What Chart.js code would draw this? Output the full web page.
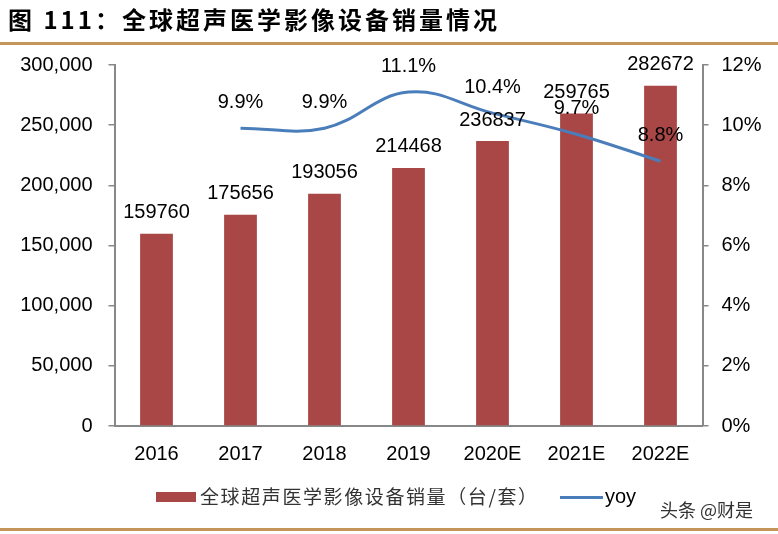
<!DOCTYPE html>
<html>
<head>
<meta charset="utf-8">
<script src="https://cdn.jsdelivr.net/npm/chart.js@4.4.1/dist/chart.umd.min.js"></script>
<style>
  body { margin: 0; background: #fff; }
  #wrap { position: relative; width: 778px; height: 534px; overflow: hidden; }
  #chart { position: absolute; left: 0; top: 0; }
  .abs { position: absolute; white-space: nowrap; }
  #title { left: 8px; top: 5px; font: 700 24px/28px "Noto Sans CJK SC"; letter-spacing: 3px; color: #000; }
  .rule { left: 0; width: 778px; height: 3px; background: #C4965A; }
  #lgText { left: 200px; top: 484px; font: 19px/24px "Noto Sans CJK SC"; color: #333; letter-spacing: 1.6px; }
  #lgYoy { left: 605px; top: 484px; font: 20px/24px "Liberation Sans"; color: #000; }
  #mark { left: 660px; top: 497px; font: 18px/24px "Noto Sans CJK SC"; color: #333; }
</style>
</head>
<body>
<div id="wrap">
  <canvas id="chart" width="778" height="534"></canvas>
  <div id="title" class="abs">图 111：全球超声医学影像设备销量情况</div>
  <div class="abs rule" style="top:42px"></div>
  <div class="abs" style="left:156px;top:492px;width:40px;height:10px;background:#A94646"></div>
  <div id="lgText" class="abs">全球超声医学影像设备销量（台/套）</div>
  <div class="abs" style="left:560px;top:496px;width:43px;height:3px;background:#4A7EBB"></div>
  <div id="lgYoy" class="abs">yoy</div>
  <div id="mark" class="abs">头条 @财是</div>
  <div class="abs rule" style="top:528px"></div>
</div>
<script>
const years = ['2016', '2017', '2018', '2019', '2020E', '2021E', '2022E'];
const sales = [159760, 175656, 193056, 214468, 236837, 259765, 282672];
const yoy = [null, 9.9, 9.9, 11.1, 10.4, 9.7, 8.8];
const salesTicks = [0, 50000, 100000, 150000, 200000, 250000, 300000];
const yoyTicks = [0, 2, 4, 6, 8, 10, 12];

const FONT = { family: 'Liberation Sans', size: 20 };
const AXIS = '#888';

// value labels above bars and line
const valueLabels = {
  id: 'valueLabels',
  afterDatasetsDraw(chart) {
    const ctx = chart.ctx;
    ctx.save();
    ctx.font = '20px "Liberation Sans"';
    ctx.fillStyle = '#000';
    ctx.textAlign = 'center';
    ctx.textBaseline = 'middle';
    chart.data.datasets.forEach((ds, i) => {
      const meta = chart.getDatasetMeta(i);
      meta.data.forEach((el, j) => {
        const v = ds.data[j];
        if (v == null) return;
        if (ds.type === 'line') {
          ctx.fillText(v.toFixed(1) + '%', el.x, el.y - 26);
        } else {
          ctx.fillText(String(v), el.x, el.y - 21);
        }
      });
    });
    ctx.restore();
  }
};

new Chart(document.getElementById('chart'), {
  data: {
    labels: years,
    datasets: [{
      type: 'line',
      label: 'yoy',
      data: yoy,
      yAxisID: 'y1',
      borderColor: '#4A7EBB',
      borderWidth: 3,
      tension: 0.4,
      pointRadius: 0,
      order: 0
    }, {
      type: 'bar',
      label: '全球超声医学影像设备销量（台/套）',
      data: sales,
      yAxisID: 'y',
      backgroundColor: '#A94646',
      categoryPercentage: 1,
      barPercentage: 0.39,
      order: 1
    }]
  },
  options: {
    responsive: false,
    devicePixelRatio: 1,
    animation: false,
    layout: { padding: { top: 65, left: 0, right: 0, bottom: 0 } },
    plugins: { legend: { display: false }, tooltip: { enabled: false } },
    scales: {
      x: {
        grid: { display: false },
        border: { display: true, color: AXIS, width: 2 },
        ticks: { font: FONT, color: '#000', padding: 8, maxRotation: 0 },
        afterFit: s => { s.height = 108; }
      },
      y: {
        position: 'left',
        min: 0, max: 300000,
        afterBuildTicks: s => { s.ticks = salesTicks.map(v => ({ value: v })); },
        ticks: { font: FONT, color: '#000', padding: 16, callback: v => v.toLocaleString('en-US') },
        grid: { drawOnChartArea: false, color: AXIS, tickLength: 6, lineWidth: 1.5 },
        border: { color: AXIS, width: 2 },
        afterFit: s => { s.width = 114.5; }
      },
      y1: {
        position: 'right',
        min: 0, max: 12,
        afterBuildTicks: s => { s.ticks = yoyTicks.map(v => ({ value: v })); },
        ticks: { font: FONT, color: '#000', padding: 13, callback: v => v + '%' },
        grid: { drawOnChartArea: false, color: AXIS, tickLength: 6, lineWidth: 1.5 },
        border: { color: AXIS, width: 2 },
        afterFit: s => { s.width = 75.5; }
      }
    }
  },
  plugins: [valueLabels]
});
</script>
</body>
</html>
